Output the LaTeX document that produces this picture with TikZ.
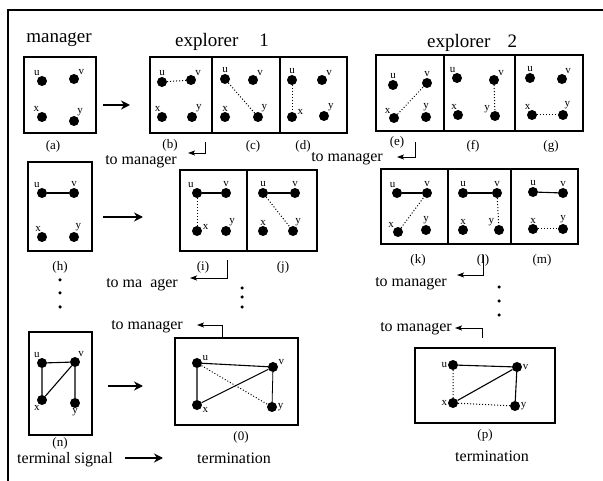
\documentclass[tikz,border=0pt]{standalone}
\usepackage{fontspec}
\setmainfont{Liberation Serif}
\usetikzlibrary{arrows.meta}
\tikzset{
  vtx/.style={circle,fill=black,inner sep=0pt,minimum size=10pt},
  lbl/.style={font=\fontsize{11}{11}\selectfont,inner sep=0.5pt},
  outerframe/.style={line width=1.2pt},
  panel/.style={line width=1.1pt},
  solidedge/.style={line width=1.5pt},
  thinedge/.style={line width=1.1pt},
  dottededge/.style={line width=1pt,dotted},
  bigarrow/.style={line width=1.7pt,-{Stealth[length=9pt,width=9pt,inset=3pt]}},
  backarrow/.style={line width=0.9pt,-{Stealth[length=7pt,width=5pt,inset=1.5pt]}},
  titletext/.style={font=\fontsize{19}{19}\selectfont,anchor=base,inner sep=0pt},
  txt/.style={font=\fontsize{16}{16}\selectfont,inner sep=0pt},
  capt/.style={font=\fontsize{13}{13}\selectfont,inner sep=0pt},
  vdot/.style={circle,fill=black,inner sep=0pt,minimum size=3.5pt}
}
\newcommand\myvert[3]{\node[vtx,label={[lbl]#3}] (#1) at (#2) {};}
\begin{document}
\begin{tikzpicture}[x=1pt,y=-1pt]
\useasboundingbox (0,0) rectangle (603,481);
% frame
\draw[outerframe] (603,10) -- (8,10) -- (8,481);
% titles
\node[titletext] (tman) at (59,43) {manager};
\node[titletext,anchor=base west] (tex1) at (175,47) {explorer\hspace{1.1em}1};
\node[titletext,anchor=base west] (tex2) at (427,48) {explorer\hspace{0.9em}2};
% ---------- row 1
\draw[panel] (24,57) rectangle (96,133);
\myvert{au}{42,81}{110:u}\myvert{av}{74,79}{40:v}\myvert{ax}{42,117}{115:x}\myvert{ay}{74,121}{60:y}
\draw[panel] (150,57) rectangle (212,133);
\draw[panel] (212,57) rectangle (280,133);
\draw[panel] (280,57) rectangle (347,133);
\myvert{bu}{162,82}{90:u}\myvert{bv}{191,80}{45:v}\myvert{bx}{162,117}{100:x}\myvert{by}{192,117}{50:y}
\draw[dottededge] (bu) -- (bv);
\myvert{cu}{225,79}{90:u}\myvert{cv}{253,80}{45:v}\myvert{cx}{225,117}{90:x}\myvert{cy}{258,117}{55:y}
\draw[dottededge] (cu) -- (cy);
\myvert{du}{292,80}{90:u}\myvert{dv}{322,80}{45:v}\myvert{dx}{292,117}{15:x}\myvert{dy}{324,116}{50:y}
\draw[dottededge] (du) -- (dx);
\draw[panel] (376,55) rectangle (444,131);
\draw[panel] (444,55) rectangle (515,131);
\draw[panel] (515,55) rectangle (583,131);
\myvert{eu}{393,85}{90:u}\myvert{ev}{427,83}{90:v}\myvert{ex}{394,118}{125:x}\myvert{ey}{426,117}{90:y}
\draw[dottededge] (ex) -- (ev);
\myvert{fu}{457,78}{100:u}\myvert{fv}{494,80}{45:v}\myvert{fx}{458,115}{95:x}\myvert{fy}{495,116}{150:y}
\draw[dottededge] (fv) -- (fy);
\myvert{gu}{530,78}{90:u}\myvert{gv}{562,79}{60:v}\myvert{gx}{532,115}{100:x}\myvert{gy}{563,115}{80:y}
\draw[dottededge] (gx) -- (gy);
\node[capt] (la) at (53,146) {(a)};
\node[capt] (lb) at (170,145) {(b)};
\node[capt] (lc) at (253,146) {(c)};
\node[capt] (ld) at (303,146) {(d)};
\node[capt] (le) at (397,142) {(e)};
\node[capt] (lf) at (473,146) {(f)};
\node[capt] (lg) at (551,146) {(g)};
\coordinate (ab1) at (103,105); \coordinate (ab2) at (130,105);
\draw[bigarrow] (ab1) -- (ab2);
\coordinate (bm1) at (205,142); \coordinate (bm2) at (188,153);
\draw[backarrow] (bm1) |- (bm2);
\node[txt,anchor=base east] (tmb) at (177,165) {to manager};
\coordinate (em1) at (415,142); \coordinate (em2) at (397,157);
\draw[backarrow] (em1) |- (em2);
\node[txt,anchor=base east] (tme) at (383,162) {to manager};
% ---------- row 2
\draw[panel] (28,162) rectangle (92,251);
\myvert{hu}{42,193}{110:u}\myvert{hv}{74,193}{90:v}\myvert{hx}{42,237}{95:x}\myvert{hy}{74,237}{80:y}
\draw[solidedge] (hu) -- (hv);
\node[capt] (lh) at (60,267) {(h)};
\node[vdot] (hd1) at (60,280) {};\node[vdot] (hd2) at (60,293) {};\node[vdot] (hd3) at (60,307) {};
\coordinate (hi1) at (103,217); \coordinate (hi2) at (143,217);
\draw[bigarrow] (hi1) -- (hi2);
\draw[panel] (180,170) rectangle (247,251);
\draw[panel] (247,170) rectangle (317,251);
\myvert{iu}{197,193}{120:u}\myvert{iv}{226,193}{90:v}\myvert{ix}{197,231}{10:x}\myvert{iy}{226,231}{60:y}
\draw[solidedge] (iu) -- (iv); \draw[dottededge] (iu) -- (ix);
\myvert{ju}{263,193}{90:u}\myvert{jv}{295,193}{90:v}\myvert{jx}{263,231}{90:x}\myvert{jy}{293,231}{70:y}
\draw[solidedge] (ju) -- (jv); \draw[dottededge] (ju) -- (jy);
\node[capt] (li) at (203,267) {(i)};
\node[capt] (lj) at (283,267) {(j)};
\coordinate (im1) at (227,260); \coordinate (im2) at (190,278);
\draw[backarrow] (im1) |- (im2);
\node[txt,anchor=base east] (tmi) at (178,288) {to ma\hspace{0.5em}ager};
\node[vdot] (jd1) at (242,288) {};\node[vdot] (jd2) at (242,297) {};\node[vdot] (jd3) at (242,307) {};
\draw[panel] (381,169) rectangle (448,244);
\draw[panel] (448,169) rectangle (511,244);
\draw[panel] (511,169) rectangle (578,244);
\myvert{ku}{397,193}{100:u}\myvert{kv}{427,193}{90:v}\myvert{kx}{398,232}{130:x}\myvert{ky}{426,230}{90:y}
\draw[solidedge] (ku) -- (kv); \draw[dottededge] (kx) -- (kv);
\myvert{lu}{463,193}{90:u}\myvert{lv}{497,193}{90:v}\myvert{lx}{463,230}{90:x}\myvert{ly}{499,230}{145:y}
\draw[solidedge] (lu) -- (lv); \draw[dottededge] (lv) -- (ly);
\myvert{mu}{533,192}{90:u}\myvert{mv}{563,193}{90:v}\myvert{mx}{533,229}{90:x}\myvert{my}{563,229}{90:y}
\draw[thinedge] (mu) -- (mv); \draw[dottededge] (mx) -- (my);
\node[capt] (lk) at (418,260) {(k)};
\node[capt] (ll) at (483,260) {(l)};
\node[capt] (lm) at (542,260) {(m)};
\coordinate (lm1) at (483,255); \coordinate (lm2) at (457,275);
\draw[backarrow] (lm1) |- (lm2);
\node[txt,anchor=base east] (tml) at (447,287) {to manager};
\node[vdot] (ld1) at (499,287) {};\node[vdot] (ld2) at (499,301) {};\node[vdot] (ld3) at (499,315) {};
% ---------- row 3
\draw[panel] (29,332) rectangle (92,435);
\myvert{nu}{42,363}{110:u}\myvert{nv}{75,362}{60:v}\myvert{nx}{42,400}{250:x}\myvert{ny}{75,403}{270:y}
\draw[thinedge] (nu) -- (nv) (nu) -- (nx) (nx) -- (nv) (nv) -- (ny);
\node[capt] (ln) at (60,443) {(n)};
\coordinate (no1) at (108,386); \coordinate (no2) at (143,386);
\draw[bigarrow] (no1) -- (no2);
\draw[panel] (175,338) rectangle (298,425);
\myvert{ou}{197,363}{20:u}\myvert{ov}{273,367}{20:v}\myvert{ox}{197,405}{-20:x}\myvert{oy}{272,407}{0:y}
\draw[thinedge] (ou) -- (ov) (ou) -- (ox) (ox) -- (ov);
\draw[line width=0.8pt] (ov) -- (oy);
\draw[dottededge] (ou) -- (oy);
\node[capt] (lo) at (241,437) {(0)};
\coordinate (om1) at (222,338); \coordinate (om2) at (197,325);
\draw[backarrow] (om1) |- (om2);
\node[txt,anchor=base east] (tmo) at (183,330) {to manager};
\draw[panel] (415,348) rectangle (555,423);
\myvert{pu}{453,365}{180:u}\myvert{pv}{517,367}{0:v}\myvert{px}{453,403}{180:x}\myvert{py}{515,406}{0:y}
\draw[thinedge] (pu) -- (pv) (px) -- (pv) (pv) -- (py);
\draw[dottededge] (pu) -- (px) (px) -- (py);
\node[capt] (lp) at (485,435) {(p)};
\coordinate (pm1) at (482,338); \coordinate (pm2) at (455,328);
\draw[backarrow] (pm1) |- (pm2);
\node[txt,anchor=base east] (tmp) at (452,332) {to manager};
% bottom texts
\node[txt,anchor=base west] (tsig) at (17,463) {terminal signal};
\coordinate (ts1) at (125,458); \coordinate (ts2) at (163,458);
\draw[bigarrow] (ts1) -- (ts2);
\node[txt,anchor=base west] (term1) at (197,463) {termination};
\node[txt,anchor=base west] (term2) at (455,461) {termination};
\end{tikzpicture}
\end{document}
